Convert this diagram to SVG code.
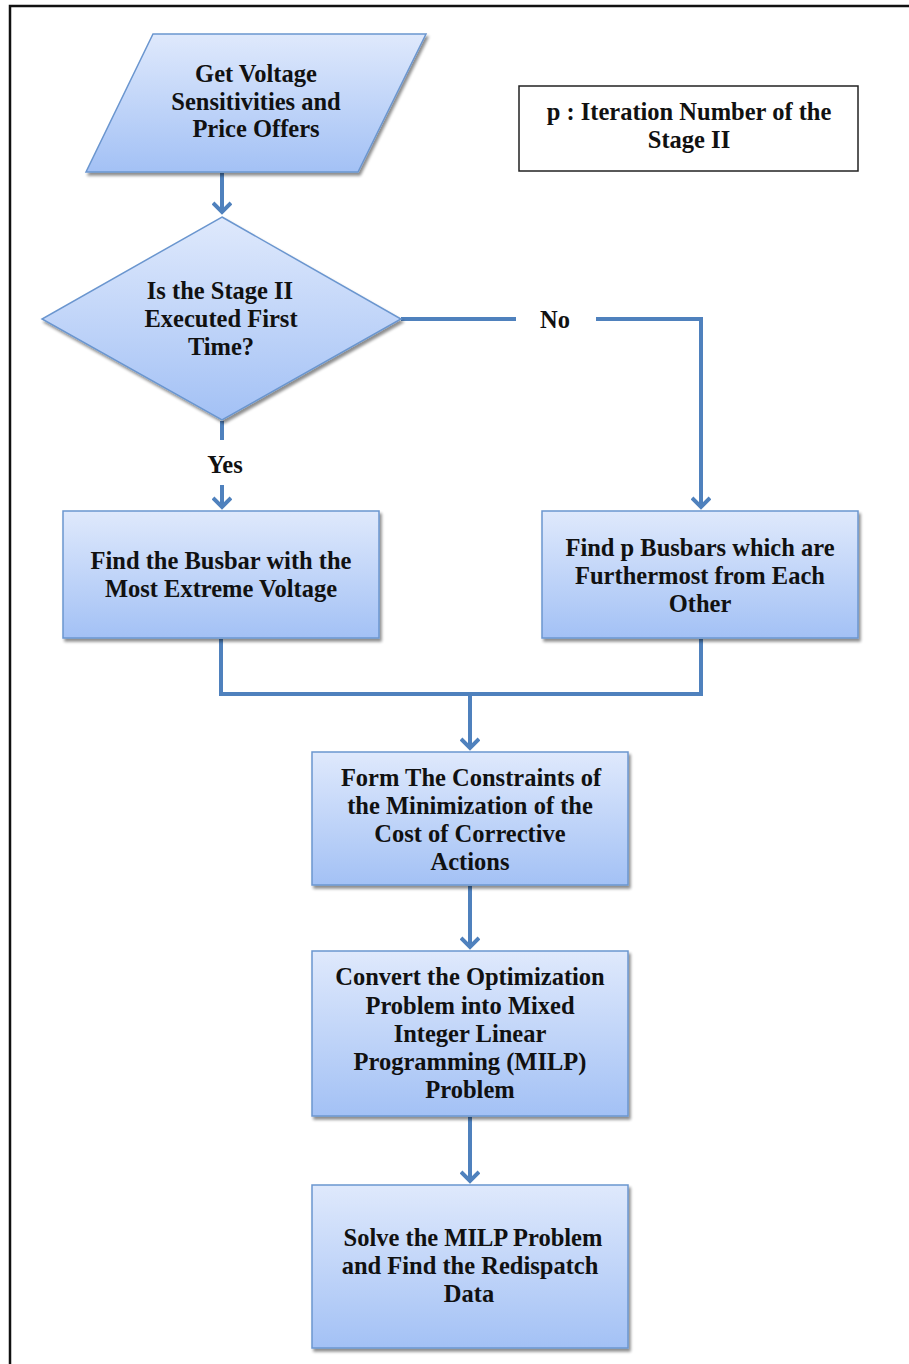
<svg xmlns="http://www.w3.org/2000/svg" width="909" height="1364" viewBox="0 0 909 1364">
<defs>
<linearGradient id="fillGrad" x1="0" y1="0" x2="0" y2="1">
<stop offset="0" stop-color="#dfe9fc"/>
<stop offset="1" stop-color="#a3c1f5"/>
</linearGradient>
<filter id="shadow" x="-10%" y="-10%" width="130%" height="130%">
<feGaussianBlur in="SourceAlpha" stdDeviation="1.5"/>
<feOffset dx="2" dy="3" result="b"/>
<feComponentTransfer><feFuncA type="linear" slope="0.45"/></feComponentTransfer>
<feMerge><feMergeNode/><feMergeNode in="SourceGraphic"/></feMerge>
</filter>
<marker id="arrow" viewBox="0 0 20 20" refX="17" refY="10" markerWidth="20" markerHeight="20" markerUnits="userSpaceOnUse" orient="auto">
<polyline points="8,1 17,10 8,19" fill="none" stroke="#4f81bd" stroke-width="4"/>
</marker>
</defs>
<style>
.shape{fill:url(#fillGrad);stroke:#6b96cf;stroke-width:1.5;filter:url(#shadow)}
.conn{fill:none;stroke:#4f81bd;stroke-width:4}
.t{font-family:"Liberation Serif","Times New Roman",serif;font-weight:bold;font-size:24.5px;fill:#111;text-anchor:middle}
</style>
<rect x="10" y="6" width="920" height="1380" fill="#fff" stroke="#111" stroke-width="2.5"/>

<g id="connectors">
<line class="conn" x1="222" y1="173" x2="222" y2="212" marker-end="url(#arrow)"/>
<line class="conn" x1="222" y1="421" x2="222" y2="440"/>
<line class="conn" x1="222" y1="485" x2="222" y2="507" marker-end="url(#arrow)"/>
<line class="conn" x1="401" y1="319" x2="516" y2="319"/>
<polyline class="conn" points="596,319 701,319 701,507" marker-end="url(#arrow)"/>
<polyline class="conn" points="221,639 221,694 701,694 701,639"/>
<line class="conn" x1="470" y1="694" x2="470" y2="748" marker-end="url(#arrow)"/>
<line class="conn" x1="470" y1="886" x2="470" y2="947" marker-end="url(#arrow)"/>
<line class="conn" x1="470" y1="1117" x2="470" y2="1181" marker-end="url(#arrow)"/>
</g>

<g id="n_input">
<polygon class="shape" points="153,34 426,34 358,172 86,172"/>
<text class="t" x="256" y="82">Get Voltage</text>
<text class="t" x="256" y="110">Sensitivities and</text>
<text class="t" x="256" y="137">Price Offers</text>
</g>

<g id="n_legend">
<rect x="519" y="86" width="339" height="85" fill="#fff" stroke="#222" stroke-width="1.5"/>
<text class="t" x="689" y="120">p : Iteration Number of the</text>
<text class="t" x="689" y="148">Stage II</text>
</g>

<g id="n_decision">
<polygon class="shape" points="222,217 401,319 222,420 42,319"/>
<text class="t" x="220" y="299">Is the Stage II</text>
<text class="t" x="221" y="327">Executed First</text>
<text class="t" x="221" y="355">Time?</text>
</g>

<g id="lbl_yes"><text class="t" x="225" y="473">Yes</text></g>
<g id="lbl_no"><text class="t" x="555" y="328">No</text></g>

<g id="n_busbar">
<rect class="shape" x="63" y="511" width="316" height="127"/>
<text class="t" x="221" y="569">Find the Busbar with the</text>
<text class="t" x="221" y="597">Most Extreme Voltage</text>
</g>

<g id="n_pbusbars">
<rect class="shape" x="542" y="511" width="316" height="127"/>
<text class="t" x="700" y="556">Find p Busbars which are</text>
<text class="t" x="700" y="584">Furthermost from Each</text>
<text class="t" x="700" y="612">Other</text>
</g>

<g id="n_constraints">
<rect class="shape" x="312" y="752" width="316" height="133"/>
<text class="t" x="471" y="786">Form The Constraints of</text>
<text class="t" x="470" y="814">the Minimization of the</text>
<text class="t" x="470" y="842">Cost of Corrective</text>
<text class="t" x="470" y="870">Actions</text>
</g>

<g id="n_convert">
<rect class="shape" x="312" y="951" width="316" height="165"/>
<text class="t" x="470" y="985">Convert the Optimization</text>
<text class="t" x="470" y="1014">Problem into Mixed</text>
<text class="t" x="470" y="1042">Integer Linear</text>
<text class="t" x="470" y="1070">Programming (MILP)</text>
<text class="t" x="470" y="1098">Problem</text>
</g>

<g id="n_solve">
<rect class="shape" x="312" y="1185" width="316" height="163"/>
<text class="t" x="473" y="1246">Solve the MILP Problem</text>
<text class="t" x="470" y="1274">and Find the Redispatch</text>
<text class="t" x="469" y="1302">Data</text>
</g>
</svg>
